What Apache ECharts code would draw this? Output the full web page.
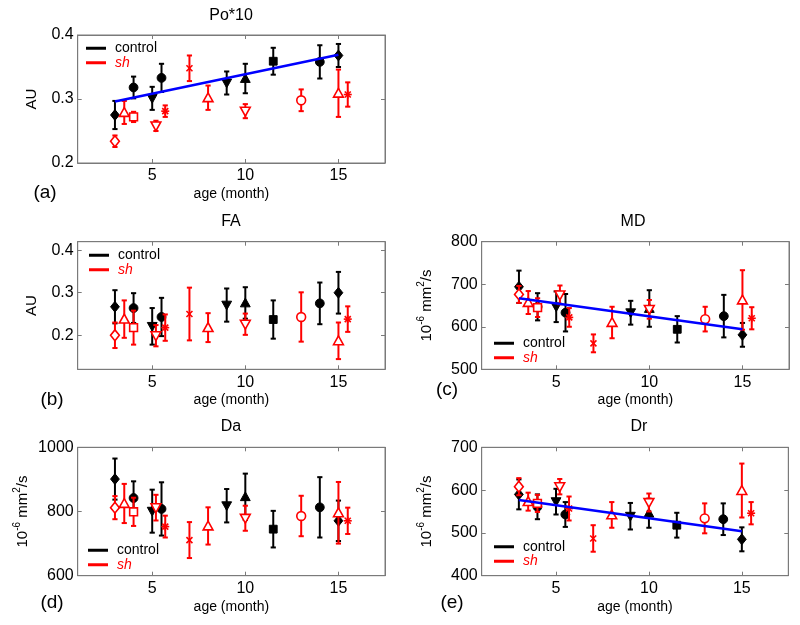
<!DOCTYPE html>
<html><head><meta charset="utf-8">
<script src="https://cdn.jsdelivr.net/npm/echarts@6/dist/echarts.min.js"></script>
<style>html,body{margin:0;padding:0;background:#fff}#c{width:800px;height:625px}</style>
</head><body><div id="c"></div>
<script>
// ---- data ----
const ctrlAges = [3, 4, 5, 5.5, 9, 10, 11.5, 14, 15];
const shAges = [3, 3.5, 4, 5.2, 5.7, 7, 8, 10, 13, 15, 15.5];
const ctrlShapes = ['diamond','circle','triangleDown','circle','triangleDown','triangle','square','circle','diamond'];
const shShapes = ['diamond','triangle','square','triangleDown','star','x','triangle','triangleDown','circle','triangle','star'];
const ageTicks = [5, 10, 15];

const poCtrl = [0.275, 0.318, 0.301, 0.333, 0.325, 0.332, 0.359, 0.358, 0.368];
const poCtrlErr = [0.022, 0.017, 0.018, 0.022, 0.018, 0.023, 0.021, 0.026, 0.018];
const poSh = [0.234, 0.279, 0.272, 0.258, 0.281, 0.348, 0.302, 0.281, 0.298, 0.309, 0.307];
const poShErr = [0.009, 0.018, 0.008, 0.008, 0.009, 0.020, 0.019, 0.011, 0.017, 0.037, 0.019];
const poFit = [[3, 0.296], [15, 0.369]];
const poTicks = [0.2, 0.3, 0.4];

const faCtrl = [0.267, 0.264, 0.221, 0.243, 0.271, 0.276, 0.237, 0.275, 0.300];
const faCtrlErr = [0.039, 0.035, 0.043, 0.045, 0.039, 0.037, 0.045, 0.049, 0.049];
const faSh = [0.200, 0.238, 0.218, 0.199, 0.218, 0.250, 0.218, 0.226, 0.243, 0.187, 0.238];
const faShErr = [0.030, 0.044, 0.040, 0.025, 0.031, 0.062, 0.034, 0.025, 0.058, 0.043, 0.030];
const faTicks = [0.2, 0.3, 0.4];

const mdCtrl = [694, 647, 647, 633, 633, 643, 594, 625, 581];
const mdCtrlErr = [38, 32, 36, 44, 28, 43, 31, 50, 28];
const mdSh = [676, 657, 645, 675, 622, 561, 610, 641, 618, 663, 620];
const mdShErr = [20, 27, 22, 22, 22, 21, 37, 22, 29, 70, 26];
const mdFit = [[3, 667], [15, 594]];
const mdTicks = [500, 600, 700, 800];

const daCtrl = [901, 842, 801, 808, 818, 846, 745, 813, 771];
const daCtrlErr = [64, 52, 67, 83, 52, 72, 57, 94, 63];
const daSh = [812, 825, 799, 812, 753, 711, 755, 779, 786, 796, 771];
const daShErr = [36, 61, 44, 40, 34, 56, 58, 39, 63, 96, 41];
const daTicks = [600, 800, 1000];

const drCtrl = [590, 561, 573, 543, 539, 546, 518, 532, 485];
const drCtrlErr = [35, 29, 30, 29, 31, 34, 29, 37, 28];
const drSh = [608, 573, 569, 608, 557, 487, 542, 571, 534, 599, 546];
const drShErr = [20, 21, 20, 18, 28, 31, 30, 21, 35, 63, 26];
const drFit = [[3, 577], [15, 504]];
const drTicks = [400, 500, 600, 700];

// ---- layout ----
const FONT = 'Liberation Sans, Arial, sans-serif';
const diffName = '{a|10}{b|-6}{a| mm}{b|2}{a|/s}';
const panels = [
  {title:'Po*10', letter:'(a)', ctrl:poCtrl, ctrlErr:poCtrlErr, sh:poSh, shErr:poShErr, fit:poFit, ymin:0.2, ymax:0.4, ticks:poTicks, yName:'AU', nameGap:38,
   grid:{left:77.7, top:35, width:307.3, height:128}, legend:{left:86, top:41}, letterPos:[45,193], titlePos:[231,17]},
  {title:'FA', letter:'(b)', ctrl:faCtrl, ctrlErr:faCtrlErr, sh:faSh, shErr:faShErr, fit:null, ymin:0.12, ymax:0.42, ticks:faTicks, yName:'AU', nameGap:38,
   grid:{left:77.7, top:241.7, width:307.3, height:127.6}, legend:{left:89, top:248}, letterPos:[52,400], titlePos:[231,223]},
  {title:'MD', letter:'(c)', ctrl:mdCtrl, ctrlErr:mdCtrlErr, sh:mdSh, shErr:mdShErr, fit:mdFit, ymin:500, ymax:800, ticks:mdTicks, yName:diffName, nameGap:45,
   grid:{left:481.7, top:241.7, width:307.3, height:127.6}, legend:{left:494, top:336}, letterPos:[447,390], titlePos:[633,223]},
  {title:'Da', letter:'(d)', ctrl:daCtrl, ctrlErr:daCtrlErr, sh:daSh, shErr:daShErr, fit:null, ymin:600, ymax:1000, ticks:daTicks, yName:diffName, nameGap:45,
   grid:{left:77.7, top:447.3, width:307.3, height:128.4}, legend:{left:88, top:543}, letterPos:[52,603], titlePos:[231,428]},
  {title:'Dr', letter:'(e)', ctrl:drCtrl, ctrlErr:drCtrlErr, sh:drSh, shErr:drShErr, fit:drFit, ymin:400, ymax:700, ticks:drTicks, yName:diffName, nameGap:45,
   grid:{left:481.7, top:447.3, width:306.6, height:128.4}, legend:{left:494, top:539.5}, letterPos:[452,603], titlePos:[639,428]}
];

const AXIS_COLOR = '#7a7a7a';

function marker(shape, x, y, color, filled) {
  const r = 4.4;
  const style = filled ? {fill: color, stroke: color, lineWidth: 1} : {fill: '#fff', stroke: color, lineWidth: 1.6};
  const lst = {stroke: color, lineWidth: 1.6};
  switch (shape) {
    case 'circle': return {type:'circle', shape:{cx:x, cy:y, r:r}, style};
    case 'diamond': return {type:'polygon', shape:{points:[[x,y-r-1],[x+r,y],[x,y+r+1],[x-r,y]]}, style};
    case 'square': return {type:'rect', shape:{x:x-r+0.5, y:y-r+0.5, width:2*r-1, height:2*r-1}, style};
    case 'triangle': return {type:'polygon', shape:{points:[[x,y-r-0.5],[x+r+0.5,y+r-0.5],[x-r-0.5,y+r-0.5]]}, style};
    case 'triangleDown': return {type:'polygon', shape:{points:[[x,y+r+0.5],[x+r+0.5,y-r+0.5],[x-r-0.5,y-r+0.5]]}, style};
    case 'x': return {type:'group', children:[
      {type:'line', shape:{x1:x-3,y1:y-3,x2:x+3,y2:y+3}, style:lst},
      {type:'line', shape:{x1:x-3,y1:y+3,x2:x+3,y2:y-3}, style:lst}]};
    case 'star': return {type:'group', children:[
      {type:'line', shape:{x1:x-3,y1:y-3,x2:x+3,y2:y+3}, style:lst},
      {type:'line', shape:{x1:x-3,y1:y+3,x2:x+3,y2:y-3}, style:lst},
      {type:'line', shape:{x1:x-4,y1:y,x2:x+4,y2:y}, style:lst},
      {type:'line', shape:{x1:x,y1:y-4,x2:x,y2:y+4}, style:lst}]};
  }
}

function makeRender(shapes, color, filled) {
  return function (params, api) {
    const x = api.value(0), y = api.value(1), e = api.value(2);
    const c = api.coord([x, y]), t = api.coord([x, y + e]), b = api.coord([x, y - e]);
    const st = {stroke: color, lineWidth: 2};
    const cap = 2.6;
    return {type:'group', children:[
      {type:'line', shape:{x1:c[0], y1:t[1], x2:c[0], y2:b[1]}, style:st},
      {type:'line', shape:{x1:c[0]-cap, y1:t[1], x2:c[0]+cap, y2:t[1]}, style:st},
      {type:'line', shape:{x1:c[0]-cap, y1:b[1], x2:c[0]+cap, y2:b[1]}, style:st},
      marker(shapes[params.dataIndex], c[0], c[1], color, filled)
    ]};
  };
}

const grids = [], xAxes = [], yAxes = [], series = [], legends = [], titles = [], graphics = [];
const N = panels.length;
panels.forEach((p, i) => {
  grids.push(Object.assign({show:true, borderColor:AXIS_COLOR, borderWidth:1}, p.grid));
  const tickCommon = {show:true, inside:true, length:4, lineStyle:{color:AXIS_COLOR}};
  xAxes[i] = {type:'value', gridIndex:i, min:1, max:17.5, position:'bottom',
    axisLine:{show:true, lineStyle:{color:AXIS_COLOR}}, splitLine:{show:false},
    axisTick:Object.assign({customValues:ageTicks}, tickCommon),
    axisLabel:{customValues:ageTicks, color:'#000', fontSize:16, fontFamily:FONT, margin:5, formatter:v => String(v)},
    name:'age (month)', nameLocation:'middle', nameGap:24,
    nameTextStyle:{color:'#000', fontSize:14, fontFamily:FONT}};
  xAxes[N + i] = {type:'value', gridIndex:i, min:1, max:17.5, position:'top',
    axisLine:{show:true, lineStyle:{color:AXIS_COLOR}}, splitLine:{show:false},
    axisTick:Object.assign({customValues:ageTicks}, tickCommon), axisLabel:{show:false}};
  yAxes[i] = {type:'value', gridIndex:i, min:p.ymin, max:p.ymax, position:'left',
    axisLine:{show:true, lineStyle:{color:AXIS_COLOR}}, splitLine:{show:false},
    axisTick:Object.assign({customValues:p.ticks}, tickCommon),
    axisLabel:{customValues:p.ticks, color:'#000', fontSize:16, fontFamily:FONT, margin:4, formatter:v => String(v)},
    name:p.yName, nameLocation:'middle', nameRotate:90, nameGap:p.nameGap,
    nameTextStyle:{color:'#000', fontSize:15, fontFamily:FONT,
      rich:{a:{fontSize:15, fontFamily:FONT, color:'#000', lineHeight:20},
            b:{fontSize:10, fontFamily:FONT, color:'#000', lineHeight:10, verticalAlign:'top'}}}};
  yAxes[N + i] = {type:'value', gridIndex:i, min:p.ymin, max:p.ymax, position:'right',
    axisLine:{show:true, lineStyle:{color:AXIS_COLOR}}, splitLine:{show:false},
    axisTick:Object.assign({customValues:p.ticks}, tickCommon), axisLabel:{show:false}};

  series.push({type:'custom', name:'control', xAxisIndex:i, yAxisIndex:i, itemStyle:{color:'#000'}, z:3,
    renderItem:makeRender(ctrlShapes, '#000', true),
    data:ctrlAges.map((a, k) => [a, p.ctrl[k], p.ctrlErr[k]])});
  series.push({type:'custom', name:'sh', xAxisIndex:i, yAxisIndex:i, itemStyle:{color:'#ff0000'}, z:4,
    renderItem:makeRender(shShapes, '#ff0000', false),
    data:shAges.map((a, k) => [a, p.sh[k], p.shErr[k]])});
  if (p.fit) {
    series.push({type:'line', name:'fit', xAxisIndex:i, yAxisIndex:i, data:p.fit, showSymbol:false, symbol:'none', z:5,
      lineStyle:{color:'#0000ff', width:2.6}, silent:true});
  }
  legends.push({left:p.legend.left, top:p.legend.top, orient:'vertical', padding:0, itemGap:0,
    itemWidth:20, itemHeight:3, icon:'rect', selectedMode:false,
    textStyle:{fontSize:14, fontFamily:FONT, color:'#000', lineHeight:14.5, padding:[0,0,0,4]},
    data:[{name:'control', itemStyle:{color:'#000'}},
          {name:'sh', itemStyle:{color:'#ff0000'}, textStyle:{color:'#ff0000', fontStyle:'italic'}}]});
  titles.push({text:p.title, left:p.titlePos[0], top:p.titlePos[1] - 9, textAlign:'center', padding:0,
    textStyle:{fontSize:16, fontWeight:'normal', fontFamily:FONT, color:'#000'}});
  graphics.push({type:'text', x:p.letterPos[0], y:p.letterPos[1],
    style:{text:p.letter, fontSize:19, fontFamily:FONT, fill:'#000', align:'center', verticalAlign:'middle'}});
});

const chart = echarts.init(document.getElementById('c'), null, {renderer:'canvas'});
chart.setOption({
  backgroundColor:'#fff',
  animation:false,
  title:titles,
  grid:grids,
  xAxis:xAxes,
  yAxis:yAxes,
  legend:legends,
  series:series,
  graphic:graphics
});
</script></body></html>
